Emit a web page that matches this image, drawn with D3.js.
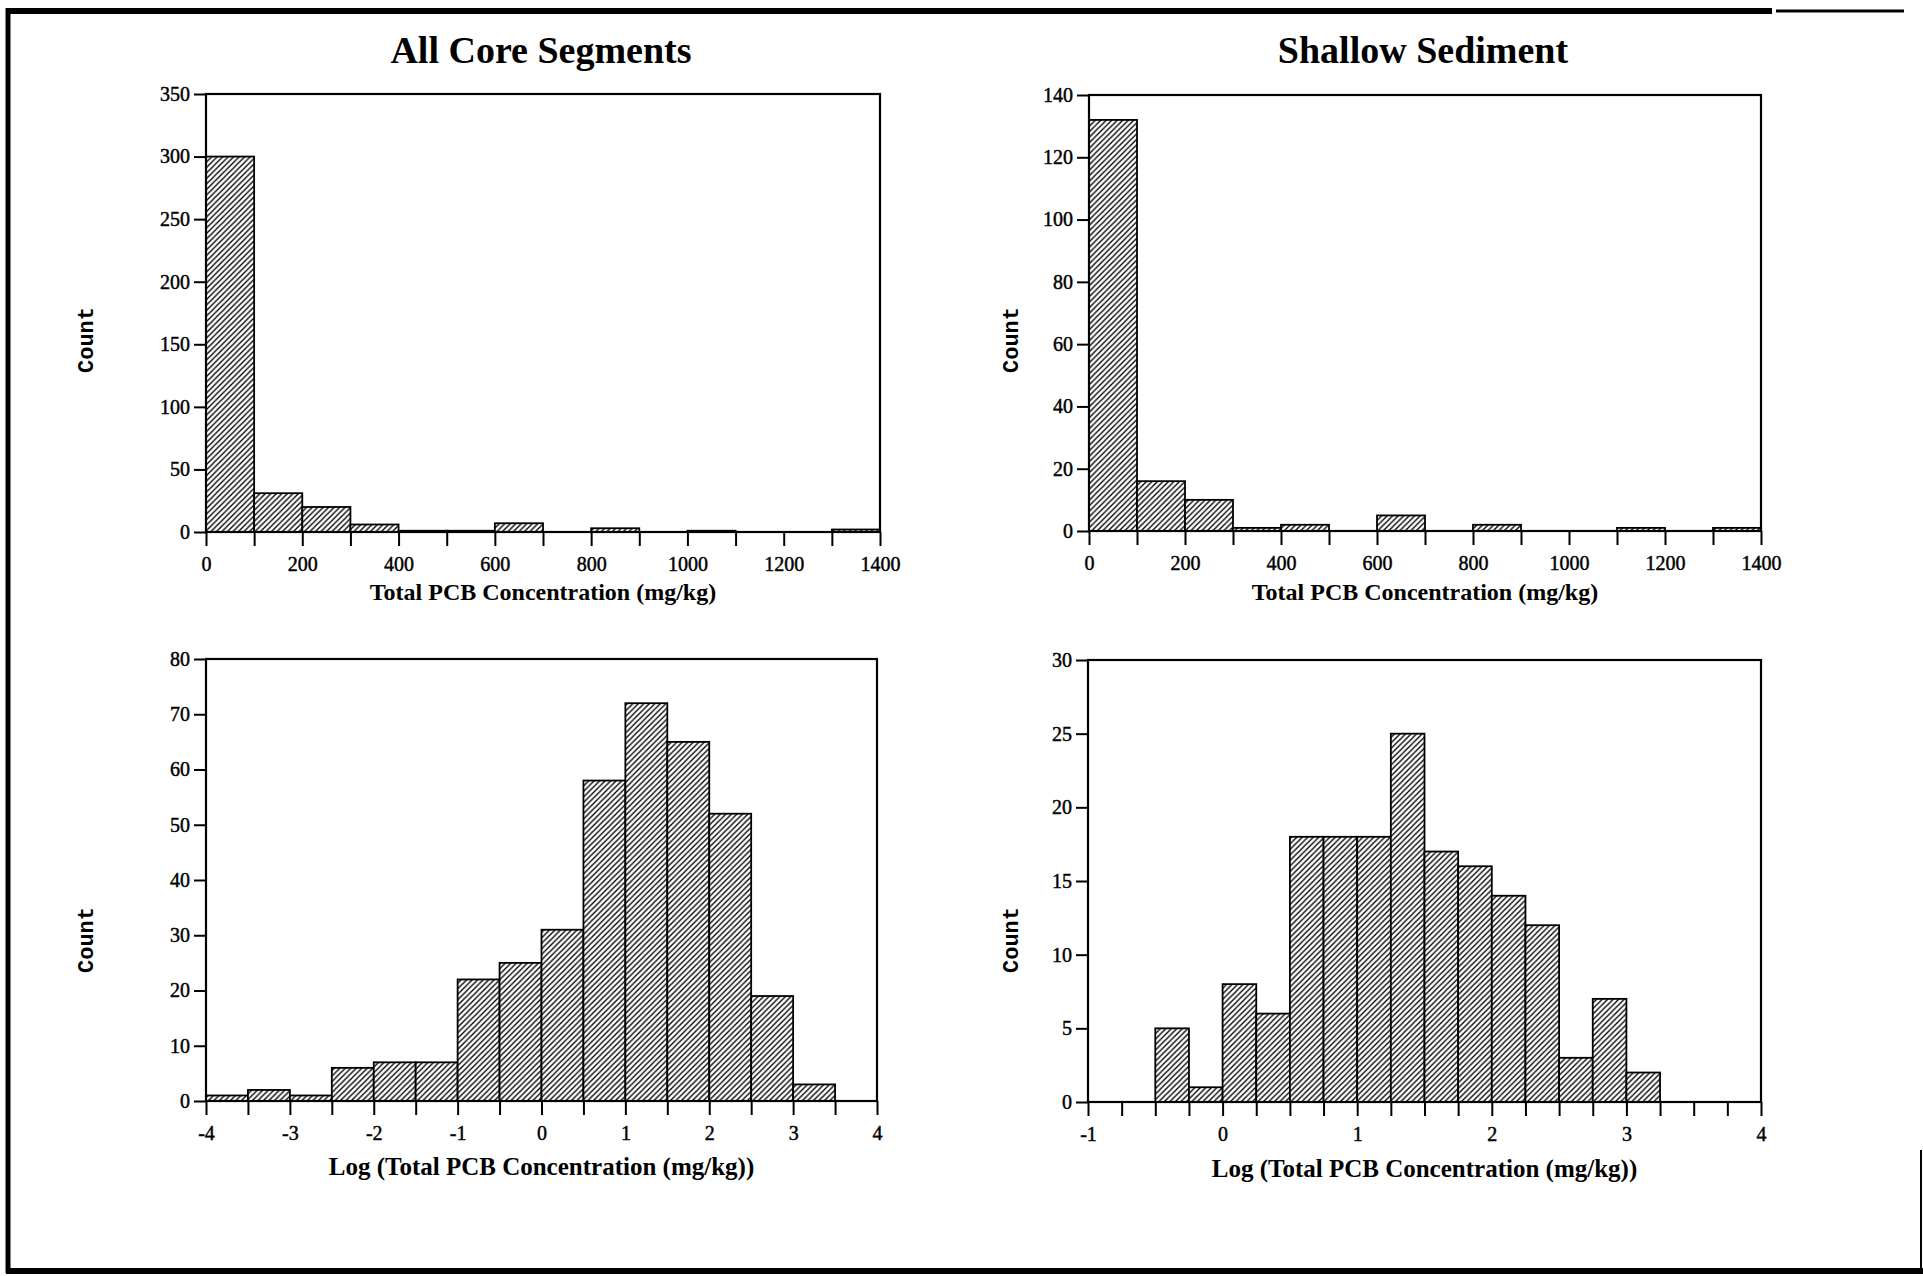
<!DOCTYPE html>
<html>
<head>
<meta charset="utf-8">
<script src="https://cdn.jsdelivr.net/npm/d3@7"></script>
<style>
  html, body { margin: 0; padding: 0; background: #fff; }
  svg { display: block; }
  .tick text { font-family: "Liberation Serif", "Times New Roman", serif; font-size: 20px; fill: #000; stroke: #000; stroke-width: 0.45px; }
  .tick line { stroke: #000; stroke-width: 2; }
</style>
</head>
<body>
<svg id="chart" width="1923" height="1276"></svg>
<script>
// ---- Histogram data: bin left edges and counts ----
const linearBinStarts = [0, 100, 200, 300, 400, 500, 600, 700, 800, 900, 1000, 1100, 1200, 1300];
const linearBinWidth = 100;
const coreCounts    = [300, 31, 20, 6, 1, 1, 7, 0, 3, 0, 1, 0, 0, 2];
const shallowCounts = [132, 16, 10, 1, 2, 0, 5, 0, 2, 0, 0, 1, 0, 1];

const coreLogBinStarts = [-4, -3.5, -3, -2.5, -2, -1.5, -1, -0.5, 0, 0.5, 1, 1.5, 2, 2.5, 3];
const coreLogBinWidth = 0.5;
const coreLogCounts = [1, 2, 1, 6, 7, 7, 22, 25, 31, 58, 72, 65, 52, 19, 3];

const shallowLogBinStarts = [-0.5, -0.25, 0, 0.25, 0.5, 0.75, 1, 1.25, 1.5, 1.75, 2, 2.25, 2.5, 2.75, 3];
const shallowLogBinWidth = 0.25;
const shallowLogCounts = [5, 1, 8, 6, 18, 18, 18, 25, 17, 16, 14, 12, 3, 7, 2];

// ---- Tick values ----
const linearXMinorTicks = [0, 100, 200, 300, 400, 500, 600, 700, 800, 900, 1000, 1100, 1200, 1300, 1400];
const linearXLabels = [0, 200, 400, 600, 800, 1000, 1200, 1400];
const coreYTicks = [0, 50, 100, 150, 200, 250, 300, 350];
const shallowYTicks = [0, 20, 40, 60, 80, 100, 120, 140];
const coreLogXMinorTicks = [-4, -3.5, -3, -2.5, -2, -1.5, -1, -0.5, 0, 0.5, 1, 1.5, 2, 2.5, 3, 3.5, 4];
const coreLogXLabels = [-4, -3, -2, -1, 0, 1, 2, 3, 4];
const coreLogYTicks = [0, 10, 20, 30, 40, 50, 60, 70, 80];
const shallowLogXMinorTicks = [-1, -0.75, -0.5, -0.25, 0, 0.25, 0.5, 0.75, 1, 1.25, 1.5, 1.75, 2, 2.25, 2.5, 2.75, 3, 3.25, 3.5, 3.75, 4];
const shallowLogXLabels = [-1, 0, 1, 2, 3, 4];
const shallowLogYTicks = [0, 5, 10, 15, 20, 25, 30];

// ---- Text ----
const titles = ["All Core Segments", "Shallow Sediment"];
const linearXTitle = "Total PCB Concentration (mg/kg)";
const logXTitle = "Log (Total PCB Concentration (mg/kg))";
const yTitle = "Count";

const svg = d3.select("#chart");

// diagonal hatch fill
const defs = svg.append("defs");
const P = 5.5;
const pat = defs.append("pattern")
  .attr("id", "hatch")
  .attr("patternUnits", "userSpaceOnUse")
  .attr("width", P).attr("height", P);
pat.append("rect").attr("width", P).attr("height", P).attr("fill", "#fff");
pat.append("path")
  .attr("d", `M-1,1 L1,-1 M0,${P} L${P},0 M${P - 1},${P + 1} L${P + 1},${P - 1}`)
  .attr("stroke", "#000").attr("stroke-width", 1.3);

// page border
const border = svg.append("g").attr("fill", "none").attr("stroke", "#000");
border.append("line").attr("x1", 6).attr("x2", 1772).attr("y1", 11).attr("y2", 11).attr("stroke-width", 6);
border.append("line").attr("x1", 1776).attr("x2", 1904).attr("y1", 11).attr("y2", 11).attr("stroke-width", 3);
border.append("line").attr("x1", 8).attr("x2", 8).attr("y1", 8).attr("y2", 1273).attr("stroke-width", 5);
border.append("line").attr("x1", 6).attr("x2", 1923).attr("y1", 1271).attr("y2", 1271).attr("stroke-width", 6);
border.append("line").attr("x1", 1921).attr("x2", 1921).attr("y1", 1150).attr("y2", 1273).attr("stroke-width", 2);

function panel(opts) {
  const { left, right, top, bottom, xDomain, yDomain, binStarts, binWidth, counts,
          xMinor, xLabels, yTicks, xTitle, xTitleY, xTitleSize, xLabelGap, countX, countY } = opts;
  const x = d3.scaleLinear().domain(xDomain).range([left, right]);
  const y = d3.scaleLinear().domain(yDomain).range([bottom, top]);
  const g = svg.append("g");

  // bars
  const bins = binStarts.map((s, i) => ({ x0: s, x1: s + binWidth, n: counts[i] })).filter(d => d.n > 0);
  g.append("g").selectAll("rect").data(bins).join("rect")
    .attr("x", d => x(d.x0))
    .attr("y", d => y(d.n))
    .attr("width", d => x(d.x1) - x(d.x0))
    .attr("height", d => y(0) - y(d.n))
    .attr("fill", "url(#hatch)")
    .attr("stroke", "#000")
    .attr("stroke-width", 1.8);

  // frame box
  g.append("rect")
    .attr("x", left).attr("y", top)
    .attr("width", right - left).attr("height", bottom - top)
    .attr("fill", "none").attr("stroke", "#000").attr("stroke-width", 2.2);

  // x axis
  const xa = g.append("g").attr("transform", `translate(0,${bottom})`)
    .call(d3.axisBottom(x).tickValues(xMinor).tickSize(14).tickPadding(xLabelGap)
      .tickFormat(d => xLabels.includes(d) ? String(d) : ""));
  xa.select(".domain").remove();

  // y axis
  const ya = g.append("g").attr("transform", `translate(${left},0)`)
    .call(d3.axisLeft(y).tickValues(yTicks).tickSize(12).tickPadding(4)
      .tickFormat(d => String(d)));
  ya.select(".domain").remove();
  ya.selectAll(".tick line").attr("stroke-width", 1.5);

  // axis titles
  g.append("text")
    .attr("x", (left + right) / 2).attr("y", xTitleY)
    .attr("text-anchor", "middle")
    .attr("font-family", "'Liberation Serif', 'Times New Roman', serif")
    .attr("font-weight", "bold").attr("font-size", xTitleSize)
    .text(xTitle);
  g.append("text")
    .attr("transform", `translate(${countX},${countY}) rotate(-90)`)
    .attr("text-anchor", "middle")
    .attr("font-family", "'Liberation Mono', 'Courier New', monospace")
    .attr("font-weight", "bold")
    .attr("font-size", 22)
    .text(yTitle);
}

// panel titles
[[titles[0], 541], [titles[1], 1423]].forEach(([t, cx]) => {
  svg.append("text").attr("x", cx).attr("y", 63)
    .attr("text-anchor", "middle")
    .attr("font-family", "'Liberation Serif', 'Times New Roman', serif")
    .attr("font-weight", "bold").attr("font-size", 38)
    .text(t);
});

panel({ left: 206, right: 880, top: 94, bottom: 532, xDomain: [0, 1400], yDomain: [0, 350],
  binStarts: linearBinStarts, binWidth: linearBinWidth, counts: coreCounts,
  xMinor: linearXMinorTicks, xLabels: linearXLabels, yTicks: coreYTicks,
  xTitle: linearXTitle, xTitleY: 600, xTitleSize: 24, xLabelGap: 11, countX: 93, countY: 340 });

panel({ left: 1089, right: 1761, top: 95, bottom: 531, xDomain: [0, 1400], yDomain: [0, 140],
  binStarts: linearBinStarts, binWidth: linearBinWidth, counts: shallowCounts,
  xMinor: linearXMinorTicks, xLabels: linearXLabels, yTicks: shallowYTicks,
  xTitle: linearXTitle, xTitleY: 600, xTitleSize: 24, xLabelGap: 11, countX: 1018, countY: 340 });

panel({ left: 206, right: 877, top: 659, bottom: 1101, xDomain: [-4, 4], yDomain: [0, 80],
  binStarts: coreLogBinStarts, binWidth: coreLogBinWidth, counts: coreLogCounts,
  xMinor: coreLogXMinorTicks, xLabels: coreLogXLabels, yTicks: coreLogYTicks,
  xTitle: logXTitle, xTitleY: 1175, xTitleSize: 25, xLabelGap: 11, countX: 93, countY: 940 });

panel({ left: 1088, right: 1761, top: 660, bottom: 1102, xDomain: [-1, 4], yDomain: [0, 30],
  binStarts: shallowLogBinStarts, binWidth: shallowLogBinWidth, counts: shallowLogCounts,
  xMinor: shallowLogXMinorTicks, xLabels: shallowLogXLabels, yTicks: shallowLogYTicks,
  xTitle: logXTitle, xTitleY: 1177, xTitleSize: 25, xLabelGap: 11, countX: 1018, countY: 940 });
</script>
</body>
</html>
